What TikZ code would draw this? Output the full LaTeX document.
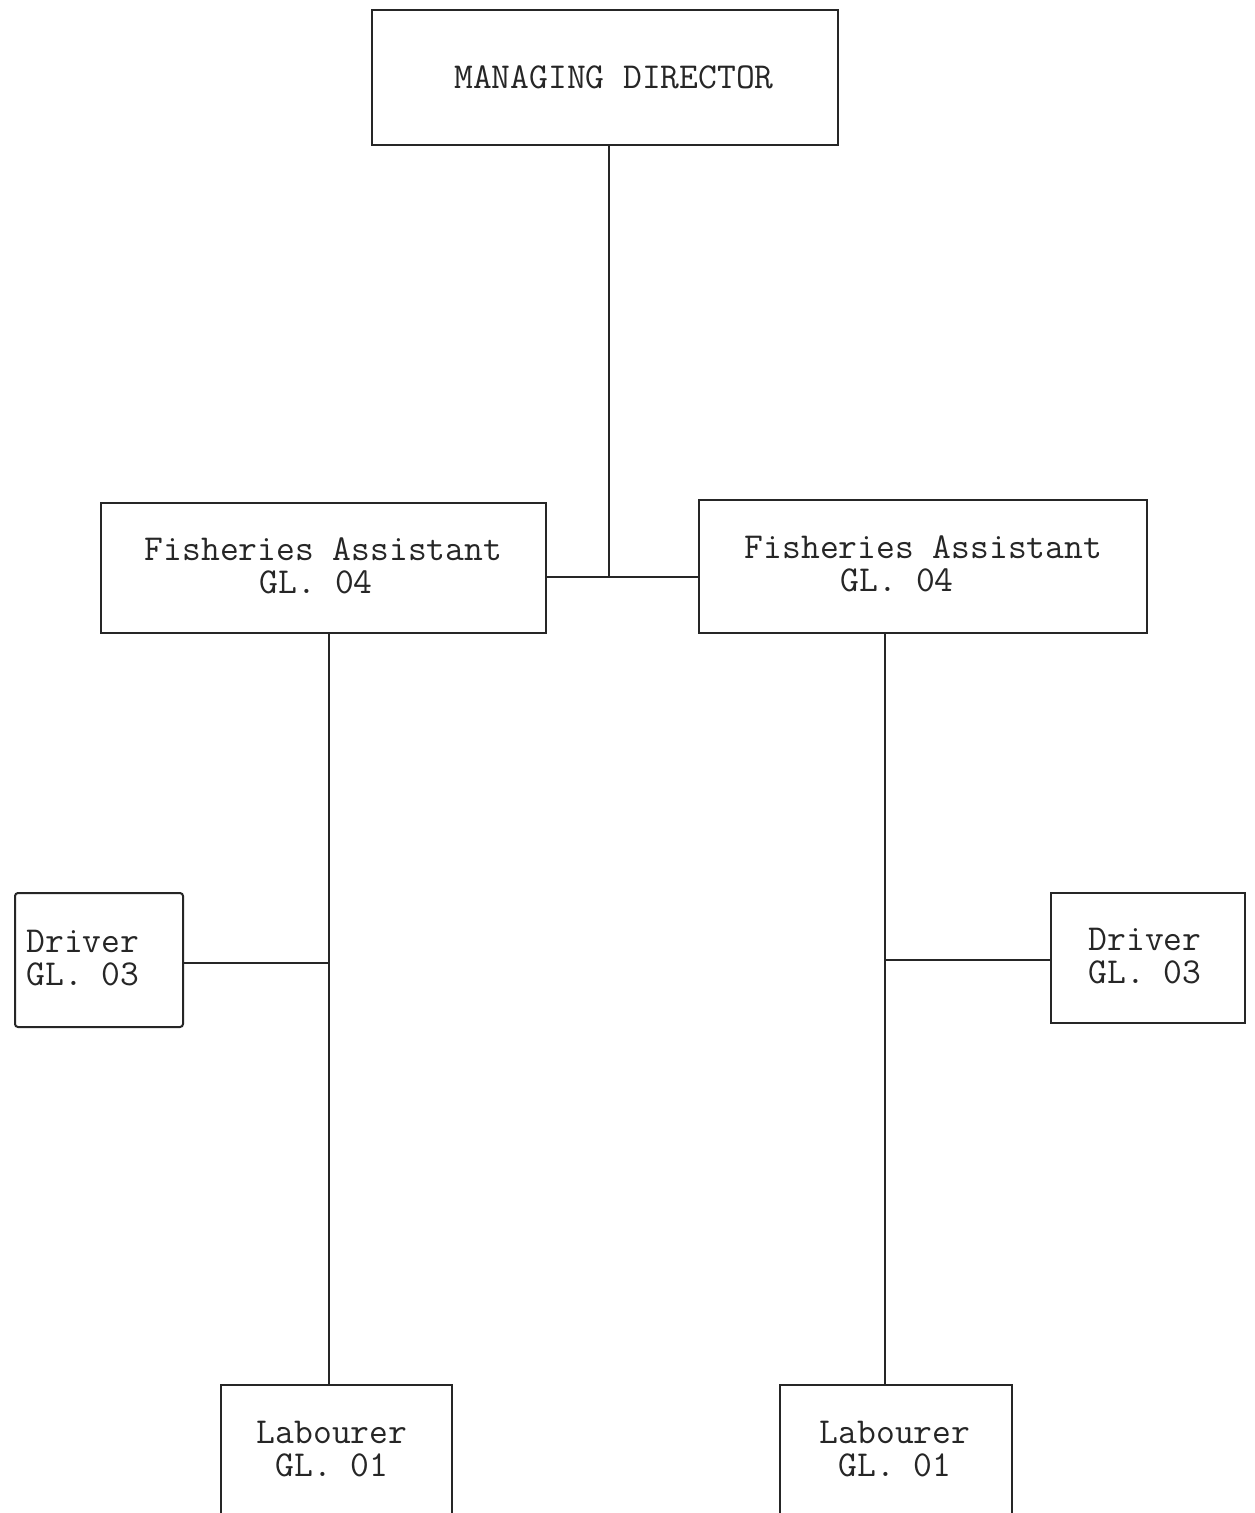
\documentclass[tikz,border=0pt]{standalone}
\usepackage{fontspec}
\begin{document}
\begin{tikzpicture}[x=1pt,y=-1pt,
  box/.style={draw=black!85, line width=2pt, minimum width=#1, inner sep=0pt},
  openbox/.style={inner sep=0pt},
  lbl/.style={font=\ttfamily\fontsize{36.5}{33}\selectfont, text=black!85, inner sep=0pt},
  conn/.style={draw=black!85, line width=2pt}]
\useasboundingbox (0,0) rectangle (1255,1513);
\fill[white] (0,0) rectangle (1255,1513);
\clip (0,0) rectangle (1255,1513);

% boxes
\node[box=466pt, minimum height=135pt] (md) at (605,77.5) {};
\node[box=445pt, minimum height=130pt] (fal) at (323.5,568) {};
\node[box=448pt, minimum height=133pt] (far) at (923,566.5) {};
\node[box=168pt, minimum height=134pt, rounded corners=3pt] (drl) at (99,960) {};
\node[box=194pt, minimum height=130pt] (drr) at (1148,958) {};
\node[openbox, minimum width=231pt, minimum height=140pt] (labl) at (336.5,1455) {};
\node[openbox, minimum width=232pt, minimum height=140pt] (labr) at (896,1455) {};
\draw[conn] (labl.south west) -- (labl.north west) -- (labl.north east) -- (labl.south east);
\draw[conn] (labr.south west) -- (labr.north west) -- (labr.north east) -- (labr.south east);

% texts
\node[lbl] (tmd) at (614,77) {MANAGING DIRECTOR};
\node[lbl, align=left] (tfal) at (323.5,566) {Fisheries Assistant\\\hspace*{115pt}GL. 04};
\node[lbl, align=left] (tfar) at (923.5,564) {Fisheries Assistant\\\hspace*{96pt}GL. 04};
\node[lbl, align=left] (tdrl) at (83,958) {Driver\\GL. 03};
\node[lbl, align=center] (tdrr) at (1145,956) {Driver\\GL. 03};
\node[lbl, align=center] (tlabl) at (332,1449) {Labourer\\GL. 01};
\node[lbl, align=center] (tlabr) at (895,1449) {Labourer\\GL. 01};

% connectors
\coordinate (j) at (609,577);
\coordinate (lj) at (329,963);
\coordinate (rj) at (885,960);
\draw[conn] (md.south -| j) -- (j);
\draw[conn] (fal.east |- j) -- (far.west |- j);
\draw[conn] (fal.south -| lj) -- (labl.north -| lj);
\draw[conn] (drl.east |- lj) -- (lj);
\draw[conn] (far.south -| rj) -- (labr.north -| rj);
\draw[conn] (rj) -- (drr.west |- rj);
\end{tikzpicture}
\end{document}
